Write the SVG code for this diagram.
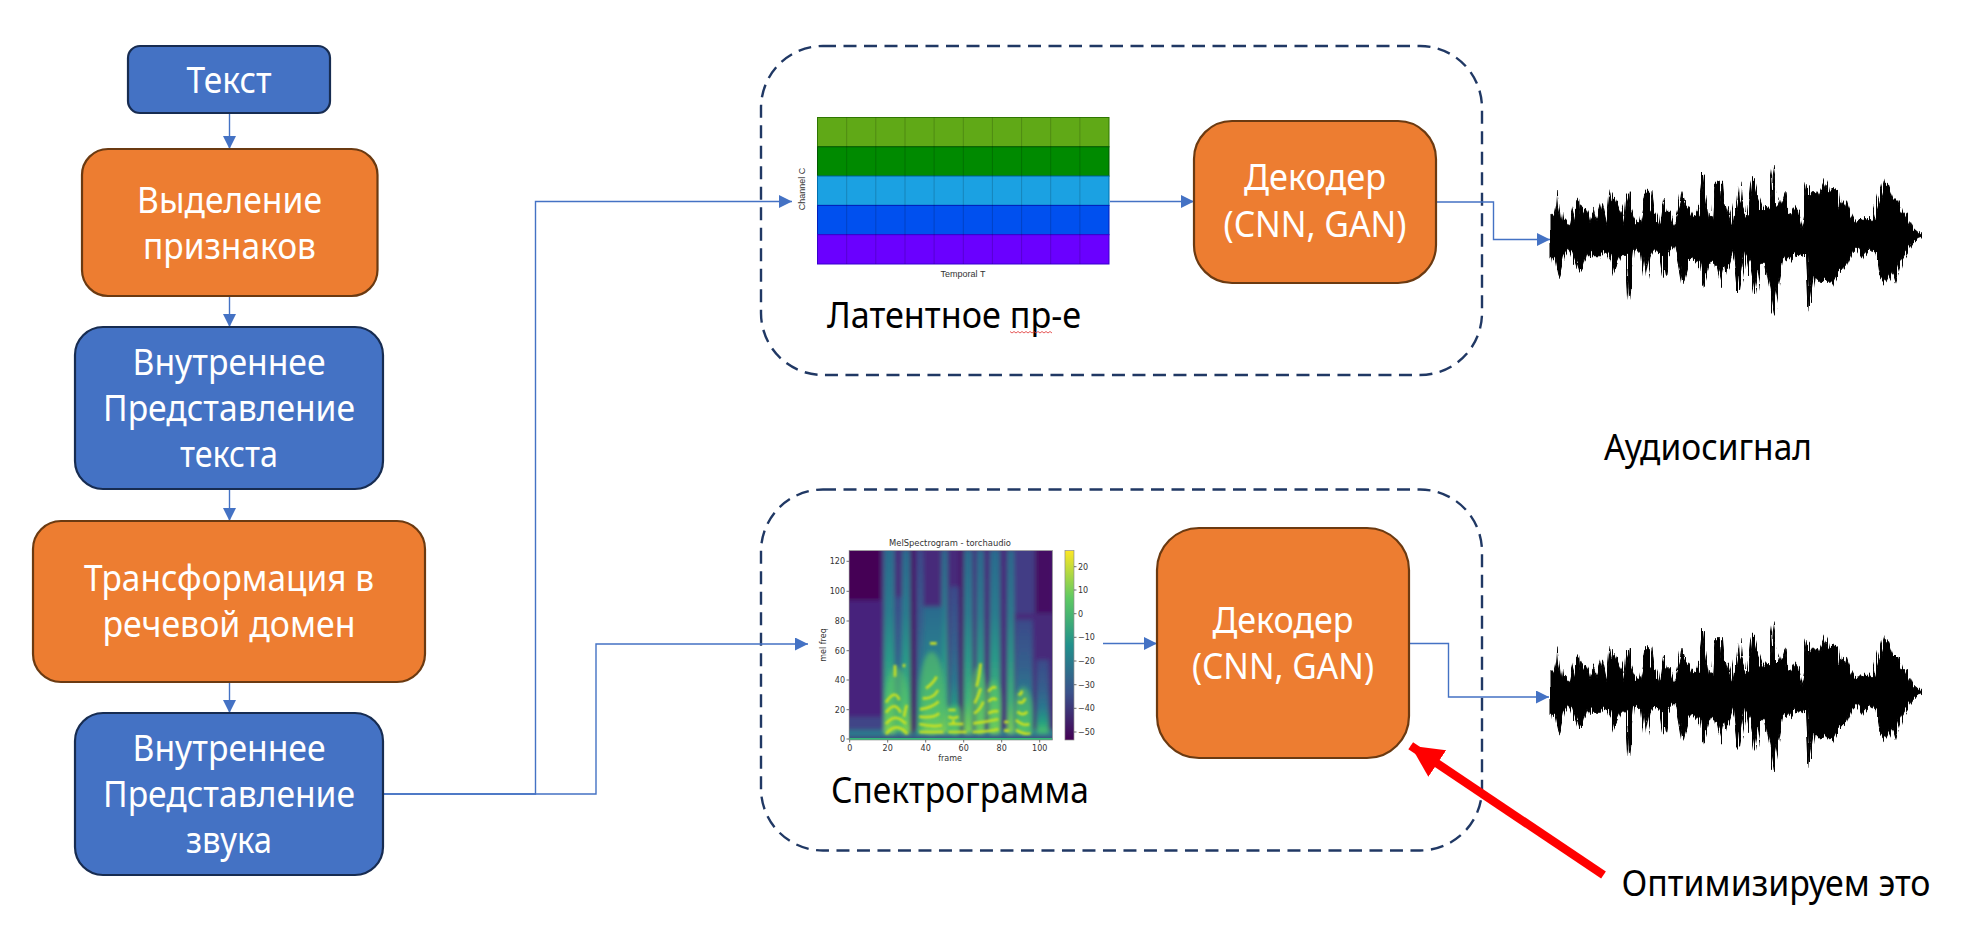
<svg xmlns="http://www.w3.org/2000/svg" xmlns:xlink="http://www.w3.org/1999/xlink" width="1969" height="927" viewBox="0 0 1969 927">
<style>
.blue{fill:#4472C4;stroke:#172C51;stroke-width:2.2}
.orange{fill:#ED7D31;stroke:#6B3A11;stroke-width:2.2}
.dash{fill:none;stroke:#203864;stroke-width:2.4;stroke-dasharray:13 7.5}
.t{font-family:"Noto Sans","Open Sans","DejaVu Sans",sans-serif;font-size:36px;text-anchor:middle}
.w{fill:#fff}
.k{fill:#000}
.c{fill:none;stroke:#4472C4;stroke-width:1.4}
.m{font-family:"DejaVu Sans","Liberation Sans",sans-serif;font-size:8px;fill:#333}
.e{text-anchor:end}
.mid{text-anchor:middle}
.tick{stroke:#333;stroke-width:.7}
.wave{fill:#000;stroke:#000;stroke-width:3}
</style>
<defs>
<marker id="a" markerUnits="userSpaceOnUse" markerWidth="14" markerHeight="14" refX="13" refY="6.5" orient="auto"><path d="M0 0L13 6.5L0 13Z" fill="#4472C4"/></marker>
<marker id="r" markerUnits="userSpaceOnUse" markerWidth="36" markerHeight="36" refX="32" refY="16" orient="auto"><path d="M0 0L32 16L0 32Z" fill="#FF0000"/></marker>
<linearGradient id="vir" x1="0" y1="1" x2="0" y2="0"><stop offset="0" stop-color="#440154"/><stop offset=".25" stop-color="#3b528b"/><stop offset=".5" stop-color="#21908c"/><stop offset=".75" stop-color="#5ec962"/><stop offset="1" stop-color="#fde725"/></linearGradient>
<linearGradient id="band" x1="0" y1="0" x2="0" y2="1"><stop offset="0" stop-color="#2b6a8e"/><stop offset=".35" stop-color="#2a7d8e"/><stop offset=".6" stop-color="#2b9a88"/><stop offset=".82" stop-color="#3fb47a"/><stop offset="1" stop-color="#7ed34f"/></linearGradient>
<linearGradient id="band2" x1="0" y1="0" x2="0" y2="1"><stop offset="0" stop-color="#3b4a8a"/><stop offset=".4" stop-color="#35608d"/><stop offset=".65" stop-color="#2a788e"/><stop offset=".85" stop-color="#26a081"/><stop offset="1" stop-color="#4fc26a"/></linearGradient>
<filter id="b1" x="-10%" y="-10%" width="120%" height="120%"><feGaussianBlur stdDeviation="7"/></filter>
<filter id="b2" x="-10%" y="-10%" width="120%" height="120%"><feGaussianBlur stdDeviation="2.4"/></filter>
<filter id="b3" x="-10%" y="-10%" width="120%" height="120%"><feGaussianBlur stdDeviation="6"/></filter>
<filter id="jag" x="-3%" y="-10%" width="106%" height="120%"><feTurbulence type="fractalNoise" baseFrequency="0.22 0.004" numOctaves="2" seed="7" result="n"/><feDisplacementMap in="SourceGraphic" in2="n" scale="30" xChannelSelector="A" yChannelSelector="R"/></filter>
<clipPath id="ax"><rect x="207" y="92" width="610" height="568"/></clipPath>
<polygon id="wf" class="wave" points="352,257 352,195 360,210 368,170 372,120 374,148 380,165 385,205 395,215 408,232 415,195 425,155 430,148 433,185 440,165 448,175 456,195 466,215 472,185 480,175 486,210 493,185 500,160 507,190 515,228 522,170 526,125 530,150 540,145 550,175 558,195 565,230 572,150 578,128 582,175 592,205 600,220 615,210 622,175 630,130 640,120 645,170 655,190 668,232 675,180 680,148 688,180 700,190 712,230 722,190 732,150 736,125 745,160 755,175 765,200 780,190 790,120 796,68 800,125 810,195 825,205 832,100 845,100 850,160 862,170 877,230 890,150 896,95 900,145 915,190 925,205 935,110 941,85 950,130 965,180 985,170 990,80 995,45 1000,80 1005,165 1020,165 1030,130 1036,190 1050,195 1065,170 1075,185 1085,235 1095,130 1100,100 1105,125 1120,125 1135,135 1150,95 1157,130 1170,120 1185,118 1190,170 1210,150 1222,190 1235,220 1250,210 1270,205 1290,215 1305,150 1318,95 1330,105 1345,150 1360,150 1370,185 1385,190 1400,230 1430,257 1405,275 1385,310 1370,340 1355,395 1345,360 1327,400 1310,375 1300,310 1280,295 1260,320 1245,290 1225,310 1210,350 1190,365 1172,405 1155,390 1135,395 1115,375 1100,478 1092,310 1075,320 1060,310 1045,330 1030,320 1015,400 1000,490 990,420 975,340 960,340 945,435 930,340 915,305 897,420 885,300 870,350 860,340 845,410 830,340 812,340 795,410 785,340 770,320 750,335 733,405 722,340 712,285 690,315 680,380 670,310 650,300 640,320 626,395 615,310 595,295 578,448 570,310 555,320 535,370 520,310 505,300 490,320 470,320 460,300 445,355 430,360 415,310 400,290 385,320 372,380 362,320 352,320"/>
</defs>
<rect width="1969" height="927" fill="#fff"/>

<g id="latent-box"><rect class="dash" x="761" y="46" width="721" height="329" rx="62"/></g>
<g id="spectro-box"><rect class="dash" x="761" y="489.5" width="721" height="361" rx="62"/></g>

<g id="connectors">
<path class="c" d="M229.5 113V149" marker-end="url(#a)"/>
<path class="c" d="M229.5 296V327" marker-end="url(#a)"/>
<path class="c" d="M229.5 489V521" marker-end="url(#a)"/>
<path class="c" d="M229.5 682V713" marker-end="url(#a)"/>
<path class="c" d="M383 794H535.500V201.500H792" marker-end="url(#a)"/>
<path class="c" d="M383 794H596V644H808" marker-end="url(#a)"/>
<path class="c" d="M1110 201.500H1194" marker-end="url(#a)"/>
<path class="c" d="M1436 202H1493.500V239.500H1550" marker-end="url(#a)"/>
<path class="c" d="M1103 643.500H1157" marker-end="url(#a)"/>
<path class="c" d="M1409 643.500H1448.500V697H1549" marker-end="url(#a)"/>
</g>

<g id="node-text"><rect class="blue" x="128" y="46" width="202" height="67" rx="12"/><text class="t w" x="229" y="92.500" textLength="85" lengthAdjust="spacingAndGlyphs">Текст</text></g>
<g id="node-features"><rect class="orange" x="82" y="149" width="295.500" height="147" rx="26"/><text class="t w" x="229.500" y="212.500" textLength="185" lengthAdjust="spacingAndGlyphs">Выделение</text><text class="t w" x="229.500" y="259" textLength="173" lengthAdjust="spacingAndGlyphs">признаков</text></g>
<g id="node-text-repr"><rect class="blue" x="75" y="327" width="308" height="162" rx="28"/><text class="t w" x="229" y="375" textLength="193" lengthAdjust="spacingAndGlyphs">Внутреннее</text><text class="t w" x="229" y="421" textLength="252" lengthAdjust="spacingAndGlyphs">Представление</text><text class="t w" x="229" y="467" textLength="98" lengthAdjust="spacingAndGlyphs">текста</text></g>
<g id="node-transform"><rect class="orange" x="33" y="521" width="392" height="161" rx="28"/><text class="t w" x="229" y="591" textLength="290" lengthAdjust="spacingAndGlyphs">Трансформация в</text><text class="t w" x="229" y="637" textLength="253" lengthAdjust="spacingAndGlyphs">речевой домен</text></g>
<g id="node-sound-repr"><rect class="blue" x="75" y="713" width="308" height="162" rx="28"/><text class="t w" x="229" y="761" textLength="193" lengthAdjust="spacingAndGlyphs">Внутреннее</text><text class="t w" x="229" y="807" textLength="252" lengthAdjust="spacingAndGlyphs">Представление</text><text class="t w" x="229" y="853" textLength="86" lengthAdjust="spacingAndGlyphs">звука</text></g>

<g id="latent-grid">
<rect x="817.500" y="117.500" width="291.500" height="29.300" fill="#60A917" stroke="#2D7600"/>
<rect x="817.500" y="146.800" width="291.500" height="29.300" fill="#008A00" stroke="#005700"/>
<rect x="817.500" y="176.100" width="291.500" height="29.300" fill="#1BA1E2" stroke="#006EAF"/>
<rect x="817.500" y="205.400" width="291.500" height="29.300" fill="#0050EF" stroke="#001DBC"/>
<rect x="817.500" y="234.700" width="291.500" height="29.300" fill="#6A00FF" stroke="#3700CC"/>
<path d="M846.700 117.500V264M875.800 117.500V264M905 117.500V264M934.100 117.500V264M963.300 117.500V264M992.400 117.500V264M1021.600 117.500V264M1050.700 117.500V264M1079.900 117.500V264" stroke="#000" stroke-opacity=".18" fill="none"/>
<text class="m mid" style="font-family:'Liberation Sans',sans-serif;font-size:9px" transform="translate(805,189) rotate(-90)">Channel C</text>
<text class="m mid" style="font-family:'Liberation Sans',sans-serif;font-size:9px" x="963" y="277">Temporal T</text>
</g>
<text class="t k" x="954" y="328" textLength="254" lengthAdjust="spacingAndGlyphs">Латентное пр-е</text>
<path d="M1010 331.500l2 1.500 2-1.500 2 1.500 2-1.500 2 1.500 2-1.500 2 1.500 2-1.500 2 1.500 2-1.500 2 1.500 2-1.500 2 1.500 2-1.500 2 1.500 2-1.500 2 1.500 2-1.500 2 1.500 2-1.500 2 1.500" fill="none" stroke="#E03030" stroke-width=".8"/>

<g id="node-decoder-1"><rect class="orange" x="1194" y="121" width="242" height="162" rx="38"/><text class="t w" x="1315" y="190" textLength="142" lengthAdjust="spacingAndGlyphs">Декодер</text><text class="t w" x="1315" y="237" textLength="183" lengthAdjust="spacingAndGlyphs">(CNN, GAN)</text></g>
<g id="node-decoder-2"><rect class="orange" x="1157" y="528" width="252" height="230" rx="42"/><text class="t w" x="1283" y="633" textLength="141" lengthAdjust="spacingAndGlyphs">Декодер</text><text class="t w" x="1283" y="679" textLength="182" lengthAdjust="spacingAndGlyphs">(CNN, GAN)</text></g>

<g id="spectrogram" transform="translate(780 520) scale(.3333)">
<g clip-path="url(#ax)">
<g filter="url(#b1)">
<rect x="190" y="80" width="650" height="600" fill="#472a7a"/>
<rect x="190" y="80" width="112" height="160" fill="#440154"/>
<rect x="190" y="240" width="112" height="360" fill="#46247c"/>
<rect x="190" y="590" width="120" height="45" fill="#414487"/>
<rect x="190" y="630" width="640" height="22" fill="#2a788e"/>
<rect x="760" y="80" width="60" height="200" fill="#440f64"/>
<rect x="700" y="80" width="65" height="200" fill="#433e85"/>
<rect x="312" y="80" width="32" height="560" fill="url(#band)"/>
<rect x="346" y="230" width="20" height="400" fill="url(#band2)"/>
<rect x="366" y="90" width="26" height="550" fill="url(#band)"/>
<rect x="412" y="90" width="18" height="550" fill="url(#band2)"/>
<rect x="430" y="260" width="55" height="380" fill="url(#band)"/>
<rect x="485" y="90" width="18" height="550" fill="url(#band)"/>
<rect x="503" y="560" width="45" height="80" fill="#3fb47a"/>
<rect x="510" y="200" width="26" height="440" fill="url(#band2)"/>
<rect x="552" y="90" width="26" height="550" fill="url(#band)"/>
<rect x="590" y="90" width="22" height="550" fill="url(#band)"/>
<rect x="630" y="90" width="30" height="550" fill="url(#band)"/>
<rect x="682" y="90" width="20" height="550" fill="url(#band)"/>
<rect x="708" y="300" width="50" height="340" fill="url(#band2)"/>
<rect x="770" y="420" width="36" height="220" fill="url(#band2)"/>
<rect x="392" y="80" width="12" height="560" fill="#471164"/>
<rect x="538" y="80" width="10" height="560" fill="#471164"/>
</g>
<g filter="url(#b3)" fill="#5ec962" fill-opacity=".55">
<ellipse cx="350" cy="540" rx="32" ry="100"/><ellipse cx="455" cy="520" rx="36" ry="125"/><ellipse cx="525" cy="600" rx="24" ry="45"/><ellipse cx="595" cy="540" rx="24" ry="100"/><ellipse cx="640" cy="560" rx="24" ry="80"/><ellipse cx="730" cy="570" rx="26" ry="70"/>
</g>
<g filter="url(#b2)" fill="none" stroke="#c8e020" stroke-width="8">
<path d="M318 642Q350 602 382 642M318 612Q345 575 378 612M318 578Q345 540 362 578M318 548Q345 505 358 540M345 470V435M372 590Q376 570 380 555M372 442v-10"/>
<path d="M418 636H490M418 612Q460 622 486 616M418 590Q460 596 478 580M420 568Q460 562 476 544M428 535Q460 538 474 510M438 505Q460 490 470 470M450 370h20"/>
<path d="M505 636H560M505 612H550M505 590Q520 598 535 590M505 570h22M520 612V600"/>
<path d="M578 636Q620 636 655 628M580 610Q620 606 655 598M582 580Q600 572 610 545M584 550Q595 530 602 505M590 500Q598 470 602 430M625 580Q645 570 655 575M625 545Q640 530 650 540M625 515Q640 495 648 505"/>
<path d="M672 632h16M672 606h14M708 630Q735 645 752 640M708 600Q730 620 748 612M712 575Q730 590 742 575M714 545Q728 555 736 535M716 520Q722 530 726 512"/>
</g>
<rect x="207" y="654" width="610" height="6" fill="#35b779"/>
</g>
<rect x="207.500" y="92" width="610" height="568" fill="none" stroke="#888" stroke-width="2"/>
<rect x="855" y="92" width="27" height="568" fill="url(#vir)" stroke="#888" stroke-width="2"/>
</g>
<g id="spectrogram-labels">
<path class="tick" d="M849.700 740v2.500M887.700 740v2.500M925.700 740v2.500M963.700 740v2.500M1001.700 740v2.500M1039.700 740v2.500M849 739h-2.500M849 709.700h-2.500M849 680h-2.500M849 650.700h-2.500M849 621h-2.500M849 591.300h-2.500M849 561.300h-2.500M1074 566.700h2.500M1074 590h2.500M1074 613.700h2.500M1074 637.300h2.500M1074 661h2.500M1074 684.700h2.500M1074 708.300h2.500M1074 732h2.500"/>
<text class="m mid" x="950" y="546" style="font-size:8.400px">MelSpectrogram - torchaudio</text>
<text class="m e" x="845" y="742">0</text><text class="m e" x="845" y="712.700">20</text><text class="m e" x="845" y="683">40</text><text class="m e" x="845" y="653.700">60</text><text class="m e" x="845" y="624">80</text><text class="m e" x="845" y="594.300">100</text><text class="m e" x="845" y="564.300">120</text>
<text class="m mid" x="849.700" y="751">0</text><text class="m mid" x="887.700" y="751">20</text><text class="m mid" x="925.700" y="751">40</text><text class="m mid" x="963.700" y="751">60</text><text class="m mid" x="1001.700" y="751">80</text><text class="m mid" x="1039.700" y="751">100</text>
<text class="m mid" x="950" y="760.500">frame</text>
<text class="m mid" transform="translate(826 645) rotate(-90)">mel freq</text>
<text class="m" x="1078" y="569.700">20</text><text class="m" x="1078" y="593">10</text><text class="m" x="1078" y="616.700">0</text><text class="m" x="1078" y="640.300">−10</text><text class="m" x="1078" y="664">−20</text><text class="m" x="1078" y="687.700">−30</text><text class="m" x="1078" y="711.300">−40</text><text class="m" x="1078" y="735">−50</text>
</g>
<text class="t k" x="960" y="803" textLength="258" lengthAdjust="spacingAndGlyphs">Спектрограмма</text>

<g id="waveform-1" transform="translate(1430 150) scale(.34376 .33333)"><use href="#wf" filter="url(#jag)"/></g>
<g id="waveform-2" transform="translate(1430 606.500) scale(.34376 .33333)"><use href="#wf" filter="url(#jag)"/></g>

<text class="t k" x="1708" y="460" textLength="208" lengthAdjust="spacingAndGlyphs">Аудиосигнал</text>

<g id="red-arrow"><path d="M1603.500 875L1410.700 745.700" fill="none" stroke="#FF0000" stroke-width="8.500" marker-end="url(#r)"/></g>
<text class="t k" x="1776" y="896" textLength="309" lengthAdjust="spacingAndGlyphs">Оптимизируем это</text>
</svg>
